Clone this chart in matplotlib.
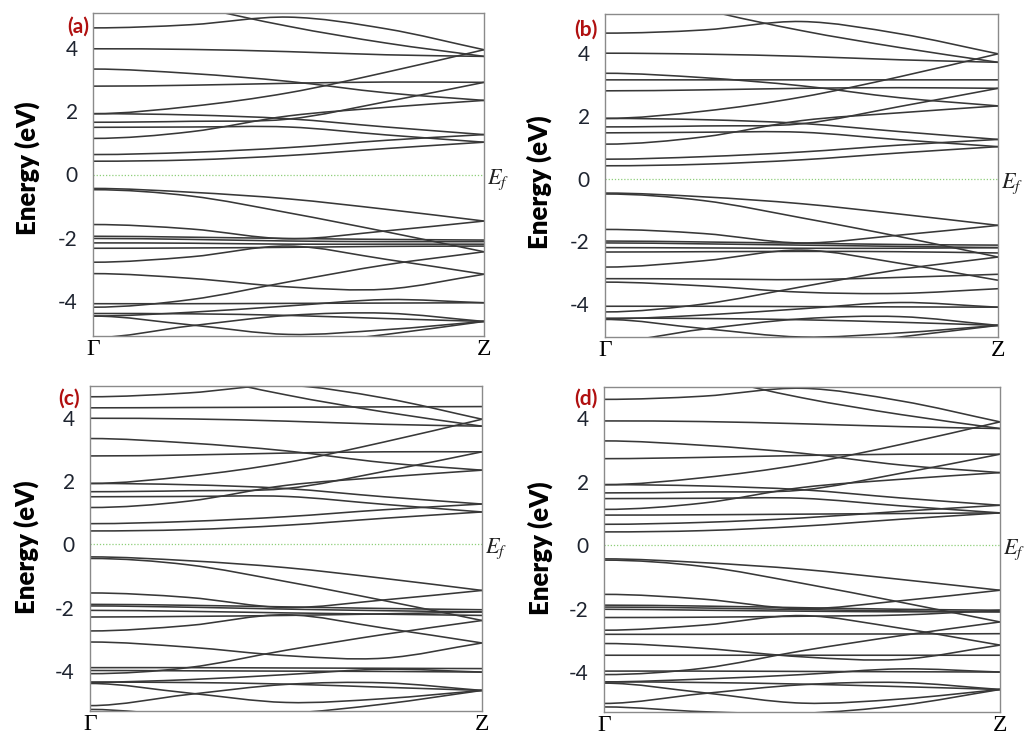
import numpy as np
import matplotlib
matplotlib.use("Agg")
import matplotlib.pyplot as plt
from matplotlib.path import Path
from matplotlib.patches import PathPatch

plt.rcParams["axes.unicode_minus"] = False
plt.rcParams["mathtext.fontset"] = "stix"

# k-path sample positions (Gamma -> Z), energies in eV
K_POINTS = [0.0, 0.25, 0.5, 0.75, 1.0]
K_LABELS = ["Γ", "Z"]
Y_TICKS = [-4, -2, 0, 2, 4]
PANEL_TAGS = ["(a)", "(b)", "(c)", "(d)"]

BANDS_A = [
    [4.63, 4.73, 4.97, 4.60, 3.94],
    [6.20, 5.35, 4.68, 4.15, 3.73],
    [3.97, 3.95, 3.88, 3.78, 3.73],
    [3.33, 3.19, 2.94, 2.58, 2.34],
    [2.79, 2.82, 2.88, 2.92, 2.91],
    [1.92, 2.15, 2.58, 3.23, 3.94],
    [1.92, 1.88, 1.76, 1.50, 1.26],
    [1.65, 1.68, 1.75, 2.30, 2.91],
    [1.49, 1.50, 1.50, 1.25, 1.02],
    [1.14, 1.35, 1.85, 2.12, 2.34],
    [0.63, 0.70, 0.85, 1.08, 1.26],
    [0.42, 0.46, 0.60, 0.82, 1.02],
    [-0.44, -0.56, -0.77, -1.10, -1.47],
    [-0.48, -0.68, -1.21, -1.81, -2.44],
    [-1.58, -1.72, -2.03, -1.78, -1.47],
    [-1.95, -1.98, -2.02, -2.05, -2.07],
    [-2.02, -2.05, -2.10, -2.12, -2.12],
    [-2.16, -2.17, -2.20, -2.20, -2.20],
    [-2.33, -2.32, -2.30, -2.27, -2.26],
    [-2.77, -2.60, -2.26, -2.68, -3.15],
    [-3.13, -3.28, -3.55, -3.62, -3.15],
    [-4.08, -4.08, -4.07, -4.06, -4.05],
    [-4.19, -3.95, -3.39, -2.85, -2.44],
    [-4.47, -4.35, -4.15, -3.95, -4.05],
    [-4.39, -4.40, -4.45, -4.55, -4.64],
    [-4.47, -4.75, -5.05, -4.90, -4.64],
    [-5.15, -4.78, -4.45, -4.38, -4.64],
    [-6.00, -5.80, -5.40, -5.05, -4.64],
]

BANDS_B = [
    [4.64, 4.74, 5.01, 4.62, 3.98],
    [6.30, 5.40, 4.72, 4.18, 3.71],
    [4.00, 3.97, 3.90, 3.79, 3.71],
    [3.36, 3.22, 2.96, 2.58, 2.32],
    [3.15, 3.15, 3.15, 3.15, 3.15],
    [2.80, 2.83, 2.88, 2.90, 2.88],
    [1.92, 2.15, 2.60, 3.25, 3.98],
    [1.92, 1.88, 1.76, 1.50, 1.25],
    [1.65, 1.68, 1.75, 2.30, 2.88],
    [1.46, 1.48, 1.48, 1.24, 1.02],
    [1.10, 1.33, 1.85, 2.10, 2.32],
    [0.62, 0.70, 0.85, 1.07, 1.25],
    [0.41, 0.46, 0.60, 0.82, 1.02],
    [-0.46, -0.58, -0.80, -1.13, -1.49],
    [-0.49, -0.70, -1.25, -1.85, -2.50],
    [-1.62, -1.75, -2.05, -1.80, -1.49],
    [-1.99, -2.02, -2.06, -2.10, -2.12],
    [-2.05, -2.08, -2.12, -2.16, -2.20],
    [-2.20, -2.21, -2.22, -2.22, -2.20],
    [-2.34, -2.33, -2.32, -2.33, -2.37],
    [-2.82, -2.62, -2.28, -2.70, -3.24],
    [-3.19, -3.20, -3.22, -3.15, -3.05],
    [-3.30, -3.42, -3.62, -3.66, -3.51],
    [-4.07, -4.07, -4.08, -4.09, -4.10],
    [-4.25, -4.00, -3.45, -2.90, -2.50],
    [-4.47, -4.35, -4.15, -3.95, -4.10],
    [-4.45, -4.46, -4.50, -4.58, -4.68],
    [-4.49, -4.78, -5.05, -4.92, -4.68],
    [-5.20, -4.80, -4.47, -4.40, -4.68],
    [-6.00, -5.80, -5.40, -5.05, -4.68],
]

BANDS_C = [
    [4.66, 4.78, 5.02, 4.62, 3.95],
    [6.30, 5.40, 4.72, 4.18, 3.73],
    [4.31, 4.32, 4.33, 4.34, 4.35],
    [3.98, 3.96, 3.89, 3.79, 3.73],
    [3.34, 3.20, 2.95, 2.58, 2.34],
    [2.79, 2.82, 2.88, 2.92, 2.92],
    [1.92, 2.15, 2.58, 3.23, 3.95],
    [1.92, 1.88, 1.76, 1.50, 1.27],
    [1.66, 1.69, 1.76, 2.30, 2.92],
    [1.50, 1.51, 1.51, 1.26, 1.02],
    [1.16, 1.36, 1.86, 2.12, 2.34],
    [0.65, 0.72, 0.87, 1.09, 1.27],
    [0.42, 0.46, 0.60, 0.82, 1.02],
    [-0.40, -0.52, -0.74, -1.08, -1.46],
    [-0.45, -0.65, -1.18, -1.78, -2.41],
    [-1.54, -1.68, -2.00, -1.76, -1.46],
    [-1.90, -1.93, -1.98, -2.03, -2.07],
    [-1.95, -1.99, -2.05, -2.10, -2.14],
    [-2.09, -2.12, -2.17, -2.21, -2.25],
    [-2.30, -2.28, -2.25, -2.20, -2.14],
    [-2.74, -2.57, -2.23, -2.65, -3.12],
    [-3.09, -3.25, -3.52, -3.60, -3.12],
    [-3.90, -3.90, -3.91, -3.92, -3.93],
    [-3.99, -4.00, -4.01, -4.02, -4.04],
    [-4.09, -3.90, -3.35, -2.85, -2.41],
    [-4.36, -4.28, -4.12, -3.95, -4.04],
    [-4.36, -4.37, -4.42, -4.52, -4.62],
    [-4.40, -4.70, -5.00, -4.88, -4.62],
    [-5.10, -4.75, -4.43, -4.38, -4.62],
    [-5.22, -5.40, -5.35, -5.05, -4.62],
]

BANDS_D = [
    [4.60, 4.70, 4.95, 4.55, 3.89],
    [6.20, 5.35, 4.65, 4.12, 3.68],
    [3.92, 3.90, 3.83, 3.74, 3.68],
    [3.29, 3.15, 2.90, 2.53, 2.29],
    [2.73, 2.77, 2.83, 2.87, 2.87],
    [1.91, 2.13, 2.55, 3.18, 3.89],
    [1.91, 1.87, 1.75, 1.49, 1.26],
    [1.65, 1.68, 1.74, 2.27, 2.87],
    [1.47, 1.48, 1.48, 1.24, 1.02],
    [1.13, 1.33, 1.82, 2.08, 2.29],
    [0.95, 0.96, 0.98, 1.00, 1.02],
    [0.66, 0.72, 0.86, 1.07, 1.26],
    [0.42, 0.46, 0.60, 0.82, 1.02],
    [-0.43, -0.55, -0.76, -1.08, -1.42],
    [-0.47, -0.67, -1.20, -1.80, -2.42],
    [-1.55, -1.70, -2.00, -1.75, -1.42],
    [-1.89, -1.92, -1.97, -2.02, -2.05],
    [-1.95, -1.98, -2.03, -2.07, -2.10],
    [-2.02, -2.05, -2.08, -2.10, -2.10],
    [-2.28, -2.27, -2.24, -2.20, -2.05],
    [-2.68, -2.52, -2.22, -2.62, -3.15],
    [-2.81, -2.81, -2.80, -2.80, -2.79],
    [-3.10, -3.25, -3.52, -3.60, -3.15],
    [-3.47, -3.47, -3.47, -3.47, -3.47],
    [-3.97, -3.97, -3.98, -3.99, -4.00],
    [-4.08, -3.88, -3.33, -2.85, -2.42],
    [-4.31, -4.22, -4.08, -3.90, -4.00],
    [-4.31, -4.33, -4.38, -4.46, -4.55],
    [-4.35, -4.65, -4.98, -4.85, -4.55],
    [-4.99, -4.68, -4.40, -4.33, -4.55],
    [-5.10, -5.25, -5.30, -5.05, -4.55],
]

PANELS = [BANDS_A, BANDS_B, BANDS_C, BANDS_D]
Y_LIMITS = [(-5.1, 5.1), (-5.05, 5.25), (-5.27, 5.0), (-5.26, 4.99)]

# figure-pixel boxes [left, top, right, bottom] of each plot area
W, H = 1029, 735
BOXES = [(93, 13, 484, 336), (605, 14, 998, 337),
         (90, 386, 482, 711), (604, 387, 1000, 712)]
YLABEL_POS = [(-0.169, 0.52), (-0.168, 0.48), (-0.163, 0.503), (-0.16, 0.505)]
TAG_POS = [(-0.01, 0.957), (-0.02, 0.953), (-0.025, 0.96), (-0.016, 0.964)]

LINE_COLOR = "#383838"


def band_patch(k, e):
    # smooth cubic through the read points, flat at Gamma
    k = np.asarray(k, float)
    e = np.asarray(e, float)
    m = np.gradient(e, k)
    m[0] = 0.0
    verts = [(k[0], e[0])]
    codes = [Path.MOVETO]
    for i in range(len(k) - 1):
        h = k[i + 1] - k[i]
        verts += [(k[i] + h / 3, e[i] + m[i] * h / 3),
                  (k[i + 1] - h / 3, e[i + 1] - m[i + 1] * h / 3),
                  (k[i + 1], e[i + 1])]
        codes += [Path.CURVE4] * 3
    return PathPatch(Path(verts, codes), fill=False, edgecolor=LINE_COLOR,
                     linewidth=1.15)


fig = plt.figure(figsize=(W / 100, H / 100), dpi=100)

for bands, ylim, box, ylp, tag, tpos in zip(PANELS, Y_LIMITS, BOXES,
                                            YLABEL_POS, PANEL_TAGS, TAG_POS):
    l, t, r, b = box
    ax = fig.add_axes([l / W, 1 - b / H, (r - l) / W, (b - t) / H])
    for e in bands:
        ax.add_patch(band_patch(K_POINTS, e))
    ax.axhline(0, color="#8fcf7a", linestyle=(0, (1, 1.5)), linewidth=0.9)
    ax.set_xlim(0, 1)
    ax.set_ylim(*ylim)

    ax.set_xticks([0, 1])
    ax.set_xticklabels(K_LABELS, family="Liberation Serif", fontsize=17)
    ax.set_yticks(Y_TICKS)
    ax.set_yticklabels([str(v) for v in Y_TICKS], family="Lato", fontsize=15,
                       color="#1e2430")
    ax.tick_params(axis="both", length=0)
    ax.tick_params(axis="y", pad=11)
    ax.tick_params(axis="x", pad=2)
    for s in ax.spines.values():
        s.set_color("#8a8a8a")
        s.set_linewidth(1.0)

    ax.text(ylp[0], ylp[1], "Energy (eV)", rotation=90, ha="center",
            va="center", transform=ax.transAxes, family="Lato",
            fontweight="heavy", fontsize=18.5, color="black")
    ax.text(tpos[0], tpos[1], tag, ha="right", va="center",
            transform=ax.transAxes, family="Lato", fontweight="bold",
            fontsize=15, color="#b01010")
    ax.text(1.008, -0.15, r"$E_f$", transform=ax.get_yaxis_transform(),
            ha="left", va="center", fontsize=16, color="#222222")

fig.savefig("out.png", dpi=100)
